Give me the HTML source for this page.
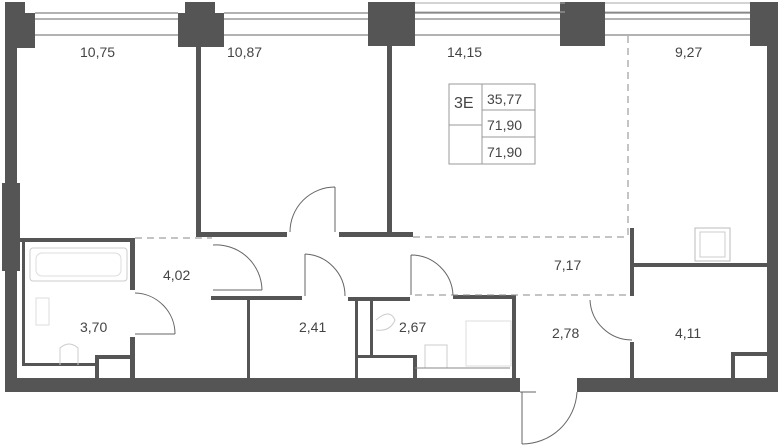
<!DOCTYPE html>
<html><head><meta charset="utf-8"><style>
html,body{margin:0;padding:0;background:#fff;}
svg{display:block;}
text{font-family:"Liberation Sans",sans-serif;font-size:14px;fill:#444;}
</style></head><body>
<svg width="780" height="446" viewBox="0 0 780 446" xmlns="http://www.w3.org/2000/svg">
<g fill="#555">
<!-- columns -->
<rect x="5" y="2" width="20" height="14"/><rect x="5" y="13" width="30" height="35"/>
<rect x="185" y="2" width="30" height="14"/><rect x="178" y="13" width="46" height="34"/>
<rect x="368" y="2" width="47" height="44"/>
<rect x="560" y="2" width="45" height="44"/>
<rect x="750" y="2" width="28" height="44"/>
<!-- outer walls -->
<rect x="5" y="40" width="12" height="352"/>
<rect x="2" y="183" width="18" height="88"/>
<rect x="767" y="40" width="11" height="352"/>
<rect x="5" y="378" width="515" height="14"/>
<rect x="577" y="378" width="201" height="14"/>
<!-- interior -->
<rect x="196" y="46" width="5" height="191"/>
<rect x="387" y="46" width="5" height="191"/>
<rect x="200" y="232" width="87" height="5"/>
<rect x="339" y="232" width="74" height="5"/>
<rect x="630" y="228" width="4" height="68"/>
<rect x="634" y="263" width="133" height="4"/>
<rect x="630" y="342" width="4" height="36"/>
<rect x="731" y="352" width="36" height="4"/><rect x="731" y="352" width="4" height="26"/>
<!-- bath 3.70 -->
<rect x="20" y="238" width="115" height="4"/>
<rect x="130" y="238" width="5" height="52"/>
<rect x="130" y="337" width="5" height="41"/>
<rect x="22" y="240" width="3" height="126"/>
<rect x="22" y="363" width="75" height="3"/>
<rect x="95" y="355" width="38" height="4"/><rect x="95" y="355" width="4" height="23"/>
<!-- 4.02 / 2.41 -->
<rect x="211" y="296" width="91" height="4"/>
<rect x="247" y="298" width="3" height="80"/>
<!-- 2.67 -->
<rect x="348" y="297" width="62" height="4"/>
<rect x="453" y="295" width="63" height="4"/>
<rect x="512" y="295" width="4" height="83"/>
<rect x="355" y="297" width="3" height="81"/>
<rect x="370" y="300" width="3" height="57"/>
<rect x="358" y="355" width="58" height="3"/>
<rect x="413" y="355" width="4" height="23"/>
</g>
<g fill="none" stroke="#666" stroke-width="1">
<!-- windows -->
<path d="M35 13H178M35 19H178M35 35H178M224 13H368M224 19H368M224 35H368M415 13H560M415 19H560M415 35H560M605 13H750M605 19H750M605 35H750"/>
<path d="M415 3H565M415 12H565M605 3H750M605 12H750" stroke="#aaa"/>
<!-- dashed -->
<path d="M628 36V237M135 238H212M413 237H628M415 295H630" stroke-dasharray="7,5" stroke="#888"/>
<!-- doors -->
<path d="M335 187V232M290 232A45 45 0 0 1 335 187"/>
<path d="M213 290H262M213 245A46 46 0 0 1 262 290"/>
<path d="M135 334H175M135 293A41 41 0 0 1 175 334"/>
<path d="M305 254V296M305 254A42 42 0 0 1 345 296"/>
<path d="M411 255V295M411 255A42 42 0 0 1 453 295"/>
<path d="M590 300A42 42 0 0 0 632 340"/>
<path d="M522 392V444M522 444A55 55 0 0 0 577 392"/>
<path d="M536 392H520"/>
<!-- fixtures -->
<rect x="30" y="248" width="97" height="33" rx="3" stroke="#ccc"/>
<rect x="36" y="253" width="85" height="23" rx="6" stroke="#ddd"/>
<rect x="36" y="298" width="13" height="27" stroke="#ddd"/>
<path d="M60 365V348Q69 340 78 348V365" stroke="#ccc"/>
<rect x="695" y="228" width="35" height="33" stroke="#bbb"/>
<rect x="700" y="232" width="25" height="25" stroke="#ccc"/>
<rect x="425" y="345" width="22" height="23" stroke="#ccc"/>
<rect x="466" y="321" width="45" height="45" stroke="#ddd"/>
<path d="M415 368H510" stroke="#888"/>
<path d="M376 320Q390 308 395 320Q390 332 376 330" stroke="#ccc"/>
<!-- legend -->
<rect x="449" y="84" width="86" height="80" stroke="#999"/>
<path d="M482 84V164M482 110H535M482 137H535M449 125H482" stroke="#999"/>
</g>
<text x="80" y="57">10,75</text>
<text x="227" y="57">10,87</text>
<text x="447" y="57">14,15</text>
<text x="675" y="57">9,27</text>
<text x="454" y="108" style="font-size:16px">3E</text>
<text x="487" y="104">35,77</text>
<text x="487" y="130">71,90</text>
<text x="487" y="157">71,90</text>
<text x="163" y="280">4,02</text>
<text x="80" y="332">3,70</text>
<text x="299" y="332">2,41</text>
<text x="399" y="332">2,67</text>
<text x="554" y="270">7,17</text>
<text x="552" y="338">2,78</text>
<text x="675" y="338">4,11</text>
</svg>
</body></html>
